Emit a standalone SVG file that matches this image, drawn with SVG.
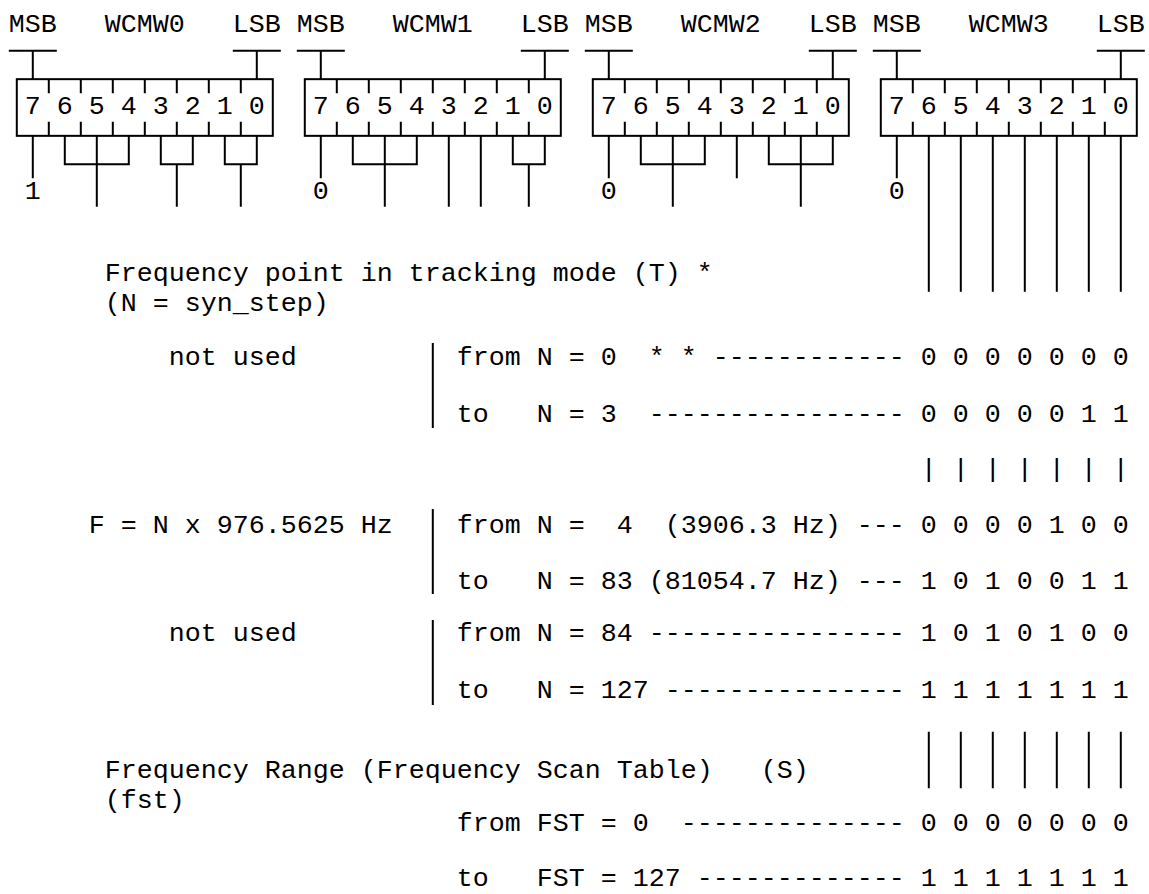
<svg xmlns="http://www.w3.org/2000/svg" width="1149" height="894" viewBox="0 0 1149 894">
<defs>
<style>
text{font-family:"Liberation Mono","DejaVu Sans Mono",monospace;font-size:26.667px;fill:#000;white-space:pre}
.m{text-anchor:middle}
.ln{stroke:#000;stroke-width:2;fill:none}
</style>
<g id="regtpl">
<rect class="ln" x="16.8" y="79.17" width="256" height="56.67"/>
<path class="ln" d="M8.8 50.83H56.8M32.8 50.83V79.17M232.8 50.83H280.8M256.8 50.83V79.17M48.8 79.17V93.33M80.8 79.17V93.33M112.8 79.17V93.33M144.8 79.17V93.33M176.8 79.17V93.33M208.8 79.17V93.33M240.8 79.17V93.33M48.8 121.67V135.83M80.8 121.67V135.83M112.8 121.67V135.83M144.8 121.67V135.83M176.8 121.67V135.83M208.8 121.67V135.83M240.8 121.67V135.83"/>
<text x="8.8" y="32">MSB</text>
<text x="232.8" y="32">LSB</text>
<text class="m" x="32.8" y="114">7</text>
<text class="m" x="64.8" y="114">6</text>
<text class="m" x="96.8" y="114">5</text>
<text class="m" x="128.8" y="114">4</text>
<text class="m" x="160.8" y="114">3</text>
<text class="m" x="192.8" y="114">2</text>
<text class="m" x="224.8" y="114">1</text>
<text class="m" x="256.8" y="114">0</text>
</g>
</defs>
<rect width="1149" height="894" fill="#fff"/>
<g id="WCMW0"><use href="#regtpl"/><text x="104.8" y="32">WCMW0</text></g>
<g id="WCMW1"><use href="#regtpl" x="288"/><text x="392.8" y="32">WCMW1</text></g>
<g id="WCMW2"><use href="#regtpl" x="576"/><text x="680.8" y="32">WCMW2</text></g>
<g id="WCMW3"><use href="#regtpl" x="864"/><text x="968.8" y="32">WCMW3</text></g>
<g id="connectors">
<path class="ln" d="M32.8 135.83V178.33M64.8 135.83V164.17H128.8V135.83M96.8 135.83V206.67M160.8 135.83V164.17H192.8V135.83M176.8 164.17V206.67M224.8 135.83V164.17H256.8V135.83M240.8 164.17V206.67"/>
<path class="ln" d="M320.8 135.83V178.33M352.8 135.83V164.17H416.8V135.83M384.8 135.83V206.67M448.8 135.83V206.67M480.8 135.83V206.67M512.8 135.83V164.17H544.8V135.83M528.8 164.17V206.67"/>
<path class="ln" d="M608.8 135.83V178.33M640.8 135.83V164.17H704.8V135.83M672.8 135.83V206.67M736.8 135.83V178.33M768.8 135.83V164.17H832.8V135.83M800.8 135.83V206.67"/>
<path class="ln" d="M896.8 135.83V178.33M928.8 135.83V291.67M960.8 135.83V291.67M992.8 135.83V291.67M1024.8 135.83V291.67M1056.8 135.83V291.67M1088.8 135.83V291.67M1120.8 135.83V291.67"/>
<path class="ln" d="M432.8 343V428M432.8 509V594M432.8 620V705"/>
<path class="ln" d="M928.8 731.7V788.3M960.8 731.7V788.3M992.8 731.7V788.3M1024.8 731.7V788.3M1056.8 731.7V788.3M1088.8 731.7V788.3M1120.8 731.7V788.3"/>
</g>
<g id="bitvalues">
<text class="m" x="32.8" y="199">1</text>
<text class="m" x="320.8" y="199">0</text>
<text class="m" x="608.8" y="199">0</text>
<text class="m" x="896.8" y="199">0</text>
</g>
<g id="tracking">
<text x="104.8" y="281">Frequency point in tracking mode (T) *</text>
<text x="104.8" y="311">(N = syn_step)</text>
<text x="168.8" y="365">not used</text>
<text x="456.8" y="365">from N = 0  * * ------------ 0 0 0 0 0 0 0</text>
<text x="456.8" y="422">to   N = 3  ---------------- 0 0 0 0 0 1 1</text>
<text x="920.8" y="477">| | | | | | |</text>
<text x="88.8" y="533">F = N x 976.5625 Hz</text>
<text x="456.8" y="533">from N =  4  (3906.3 Hz) --- 0 0 0 0 1 0 0</text>
<text x="456.8" y="589">to   N = 83 (81054.7 Hz) --- 1 0 1 0 0 1 1</text>
<text x="168.8" y="641">not used</text>
<text x="456.8" y="641">from N = 84 ---------------- 1 0 1 0 1 0 0</text>
<text x="456.8" y="698">to   N = 127 --------------- 1 1 1 1 1 1 1</text>
</g>
<g id="scan">
<text x="104.8" y="778">Frequency Range (Frequency Scan Table)   (S)</text>
<text x="104.8" y="808">(fst)</text>
<text x="456.8" y="831">from FST = 0  -------------- 0 0 0 0 0 0 0</text>
<text x="456.8" y="885.5">to   FST = 127 ------------- 1 1 1 1 1 1 1</text>
</g>
</svg>
